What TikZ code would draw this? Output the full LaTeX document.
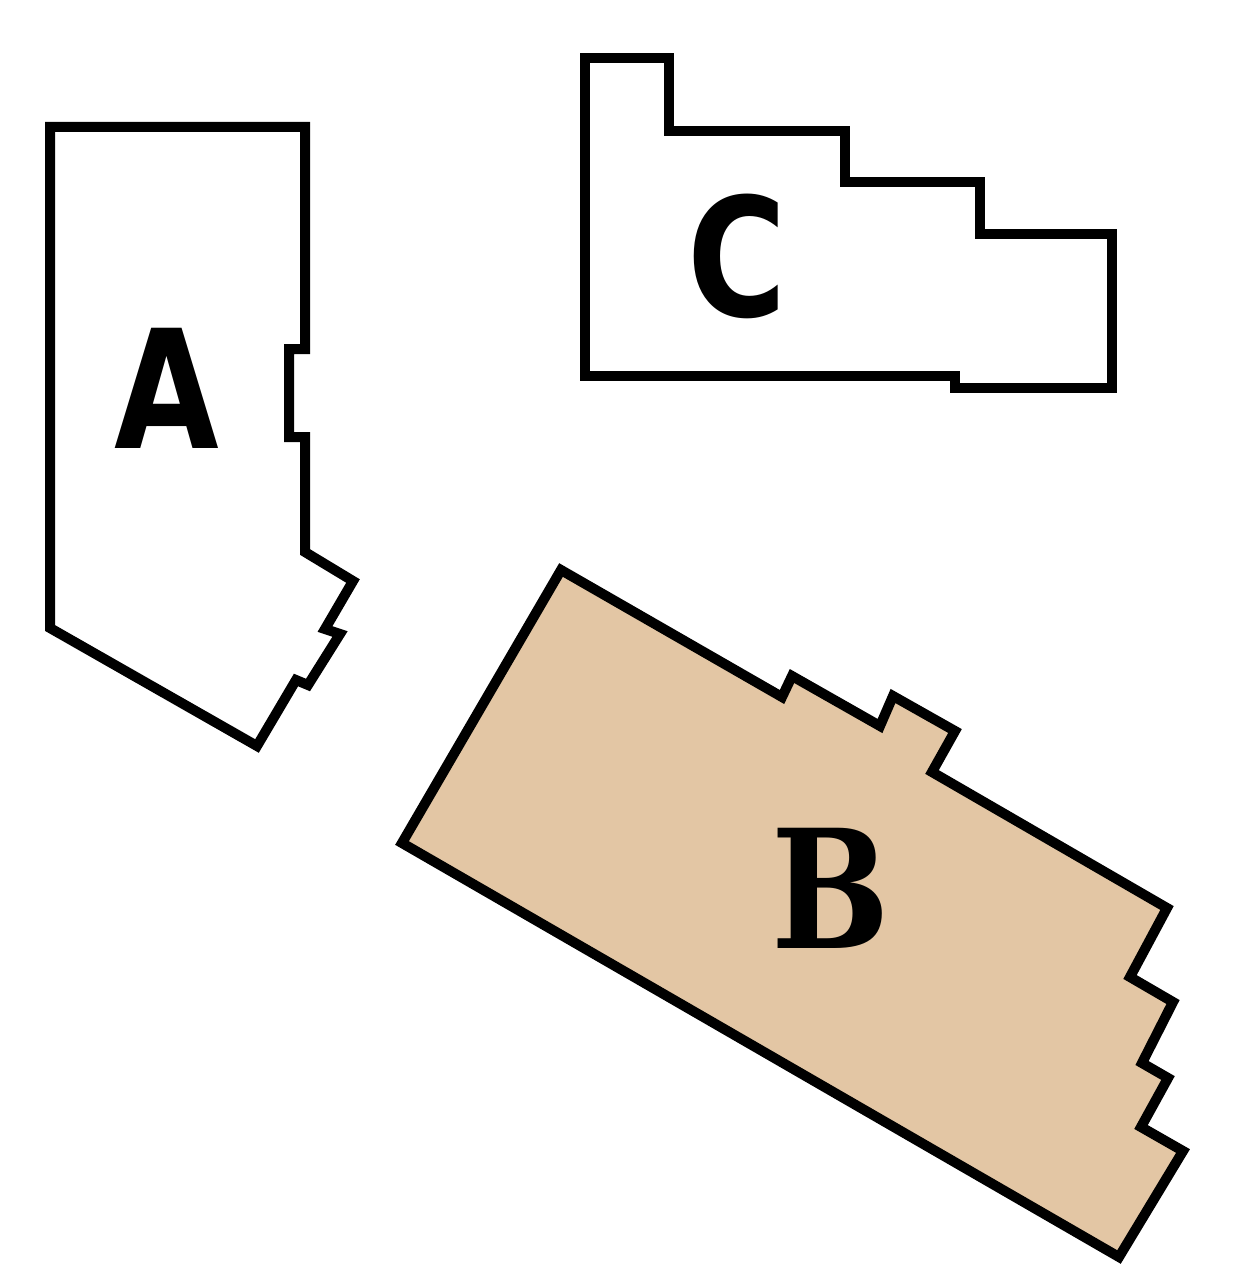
\documentclass[tikz,border=0pt]{standalone}
\usepackage{fontspec}
\newfontfamily\sansfnt{DejaVu Sans}[BoldFont={* Bold}]
\newfontfamily\seriffnt{DejaVu Serif}[BoldFont={* Bold}]
\definecolor{tan}{RGB}{227,198,164}
\begin{document}
\begin{tikzpicture}[x=1pt,y=-1pt,
  outline/.style={draw=black,line width=10pt,line join=miter},
  lbl/.style={inner sep=0pt,font=\fontsize{165}{165}\selectfont\bfseries}]
\useasboundingbox (0,0) rectangle (1259,1271);
% A
\draw[outline] (50,127) -- (305,127) -- (305,349) -- (289,349) -- (289,437) -- (305,437)
  -- (305,552) -- (353,581) -- (325,629) -- (340,634) -- (308,685) -- (296,680) -- (257,746) -- (50,628) -- cycle;
% C
\draw[outline] (585,58) -- (669,58) -- (669,131) -- (845,131) -- (845,182) -- (980,182) -- (980,234)
  -- (1112,234) -- (1112,388) -- (955,388) -- (955,376) -- (585,376) -- cycle;
% B
\draw[outline,fill=tan] (561,570) -- (782,697) -- (792,676) -- (880,726) -- (893,696) -- (955,731)
  -- (932,772) -- (1167,908) -- (1130,977) -- (1173,1002) -- (1142,1063) -- (1168,1078)
  -- (1141,1127) -- (1183,1151) -- (1119,1257) -- (402,843) -- cycle;
\node[lbl] (la) at (167,388) {\scalebox{0.82}[1]{\sansfnt A}};
\node[lbl] (lc) at (737,256) {\scalebox{0.82}[1]{\sansfnt C}};
\node[lbl] (lb) at (831,888) {\scalebox{0.85}[1]{\seriffnt B}};
\end{tikzpicture}
\end{document}
